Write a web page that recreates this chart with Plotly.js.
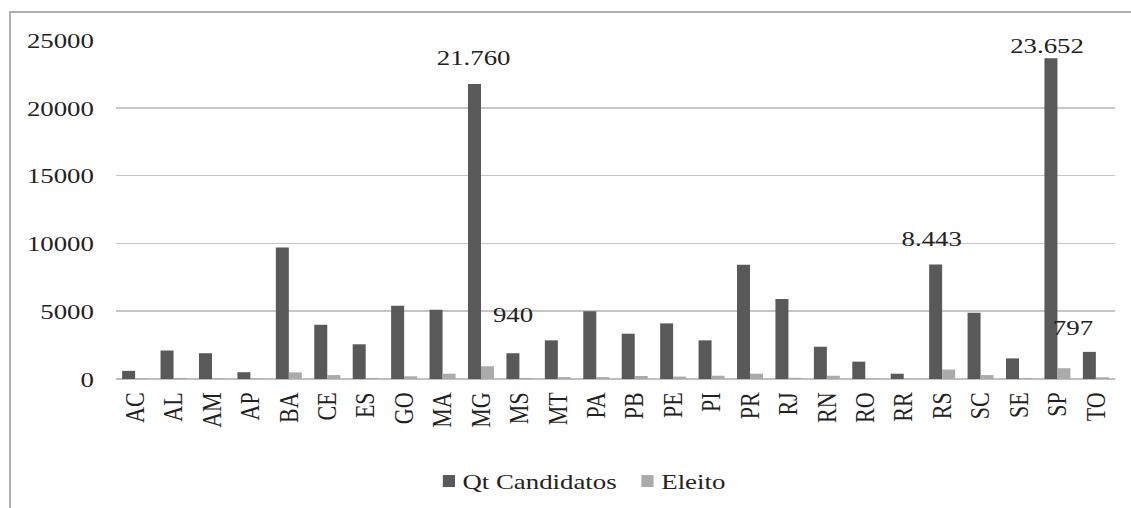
<!DOCTYPE html>
<html>
<head>
<meta charset="utf-8">
<script src="https://cdn.plot.ly/plotly-3.0.1.min.js"></script>
<style>
  html, body { margin: 0; padding: 0; background: #ffffff; overflow: hidden; width: 1131px; height: 508px; }
  #frame { position: absolute; left: 9px; top: 11px; width: 1200px; height: 600px;
           border-left: 2px solid #b0b0b0; border-top: 2px solid #b0b0b0; pointer-events: none; }
  /* the serif lettering of this chart is set wide, so the drawing is widened as a whole */
  #chart { position: absolute; left: 0; top: 0; width: 927px; height: 508px;
           transform: scaleX(1.22); transform-origin: 0 0; }
</style>
</head>
<body>
<div id="chart"></div>
<div id="frame"></div>
<script>
// Candidates and elected, by state (UF)
const estados = ["AC","AL","AM","AP","BA","CE","ES","GO","MA","MG","MS","MT","PA",
                 "PB","PE","PI","PR","RJ","RN","RO","RR","RS","SC","SE","SP","TO"];
const qtCandidatos = [600, 2100, 1900, 500, 9700, 4000, 2560, 5400, 5100, 21760, 1900, 2850, 5000,
                      3340, 4100, 2850, 8430, 5900, 2380, 1280, 390, 8443, 4890, 1520, 23652, 2000];
const eleitos = [50, 80, 60, 40, 490, 290, 80, 200, 390, 940, 80, 140, 140,
                 220, 180, 240, 390, 90, 240, 50, 15, 700, 290, 75, 797, 130];
const series = ["Qt Candidatos", "Eleito"];
const cores = ["#595959", "#ababab"];

// Values that carry a data label: [state, shift x, shift y]
const rotulosCandidatos = [["MG", -5.8, 26], ["RS", -7.8, 26.5], ["SP", -8.5, 13]];
const rotulosEleitos = [["MG", 26, 52], ["SP", 13, 41]];

const fonte = "Liberation Serif";
const corTexto = "#222222";

// Brazilian number format: dot as thousands separator
function formatar(v) {
  return String(v).replace(/\B(?=(\d{3})+(?!\d))/g, ".");
}

const traces = [
  { type: "bar", name: series[0], x: estados, y: qtCandidatos,
    marker: { color: cores[0] }, hoverinfo: "x+y" },
  { type: "bar", name: series[1], x: estados, y: eleitos,
    marker: { color: cores[1] }, hoverinfo: "x+y" }
];

const annotations = [];
function rotular(lista, valores) {
  lista.forEach(([uf, dx, dy]) => {
    const v = valores[estados.indexOf(uf)];
    annotations.push({ x: uf, y: v, xref: "x", yref: "y", text: formatar(v), showarrow: false,
      xshift: dx, yshift: dy, xanchor: "center", yanchor: "middle",
      font: { family: fonte, size: 22, color: corTexto } });
  });
}
rotular(rotulosCandidatos, qtCandidatos);
rotular(rotulosEleitos, eleitos);

// Compact legend below the axis: a square key right before each series name
const legendaY = -0.301;
const legendaX = [0.3333, 0.532];
const shapes = [];
traces.forEach((t, i) => {
  shapes.push({ type: "rect", xref: "paper", yref: "paper", xsizemode: "pixel", ysizemode: "pixel",
    xanchor: legendaX[i], yanchor: legendaY, x0: -5, x1: 5, y0: -6, y1: 6,
    fillcolor: t.marker.color, line: { width: 0 } });
  annotations.push({ xref: "paper", yref: "paper", x: legendaX[i] + 0.011, y: legendaY,
    xanchor: "left", yanchor: "middle", text: t.name, showarrow: false,
    font: { family: fonte, size: 22, color: corTexto } });
});

const layout = {
  width: 927, height: 508,
  margin: { l: 95, r: 13, t: 40, b: 129, pad: 0 },
  paper_bgcolor: "rgba(0,0,0,0)", plot_bgcolor: "rgba(0,0,0,0)",
  font: { family: fonte, size: 22, color: corTexto },
  barmode: "group", bargap: 0.324, bargroupgap: 0,
  showlegend: false,
  xaxis: { type: "category", tickangle: -90, showgrid: false, zeroline: false,
           showline: false, ticks: "", ticklabelstandoff: 8,
           tickfont: { family: fonte, size: 22, color: corTexto } },
  yaxis: { range: [0, 25000], dtick: 5000, tick0: 0, tickformat: "d",
           showgrid: true, gridcolor: "#c6c6c6", gridwidth: 1.6,
           zeroline: true, zerolinecolor: "#c0c0c0", zerolinewidth: 2,
           showline: false, ticks: "", ticklabelstandoff: 17,
           tickfont: { family: fonte, size: 22, color: corTexto } },
  shapes: shapes,
  annotations: annotations
};

Plotly.newPlot("chart", traces, layout, { staticPlot: true, displayModeBar: false });
</script>
</body>
</html>
